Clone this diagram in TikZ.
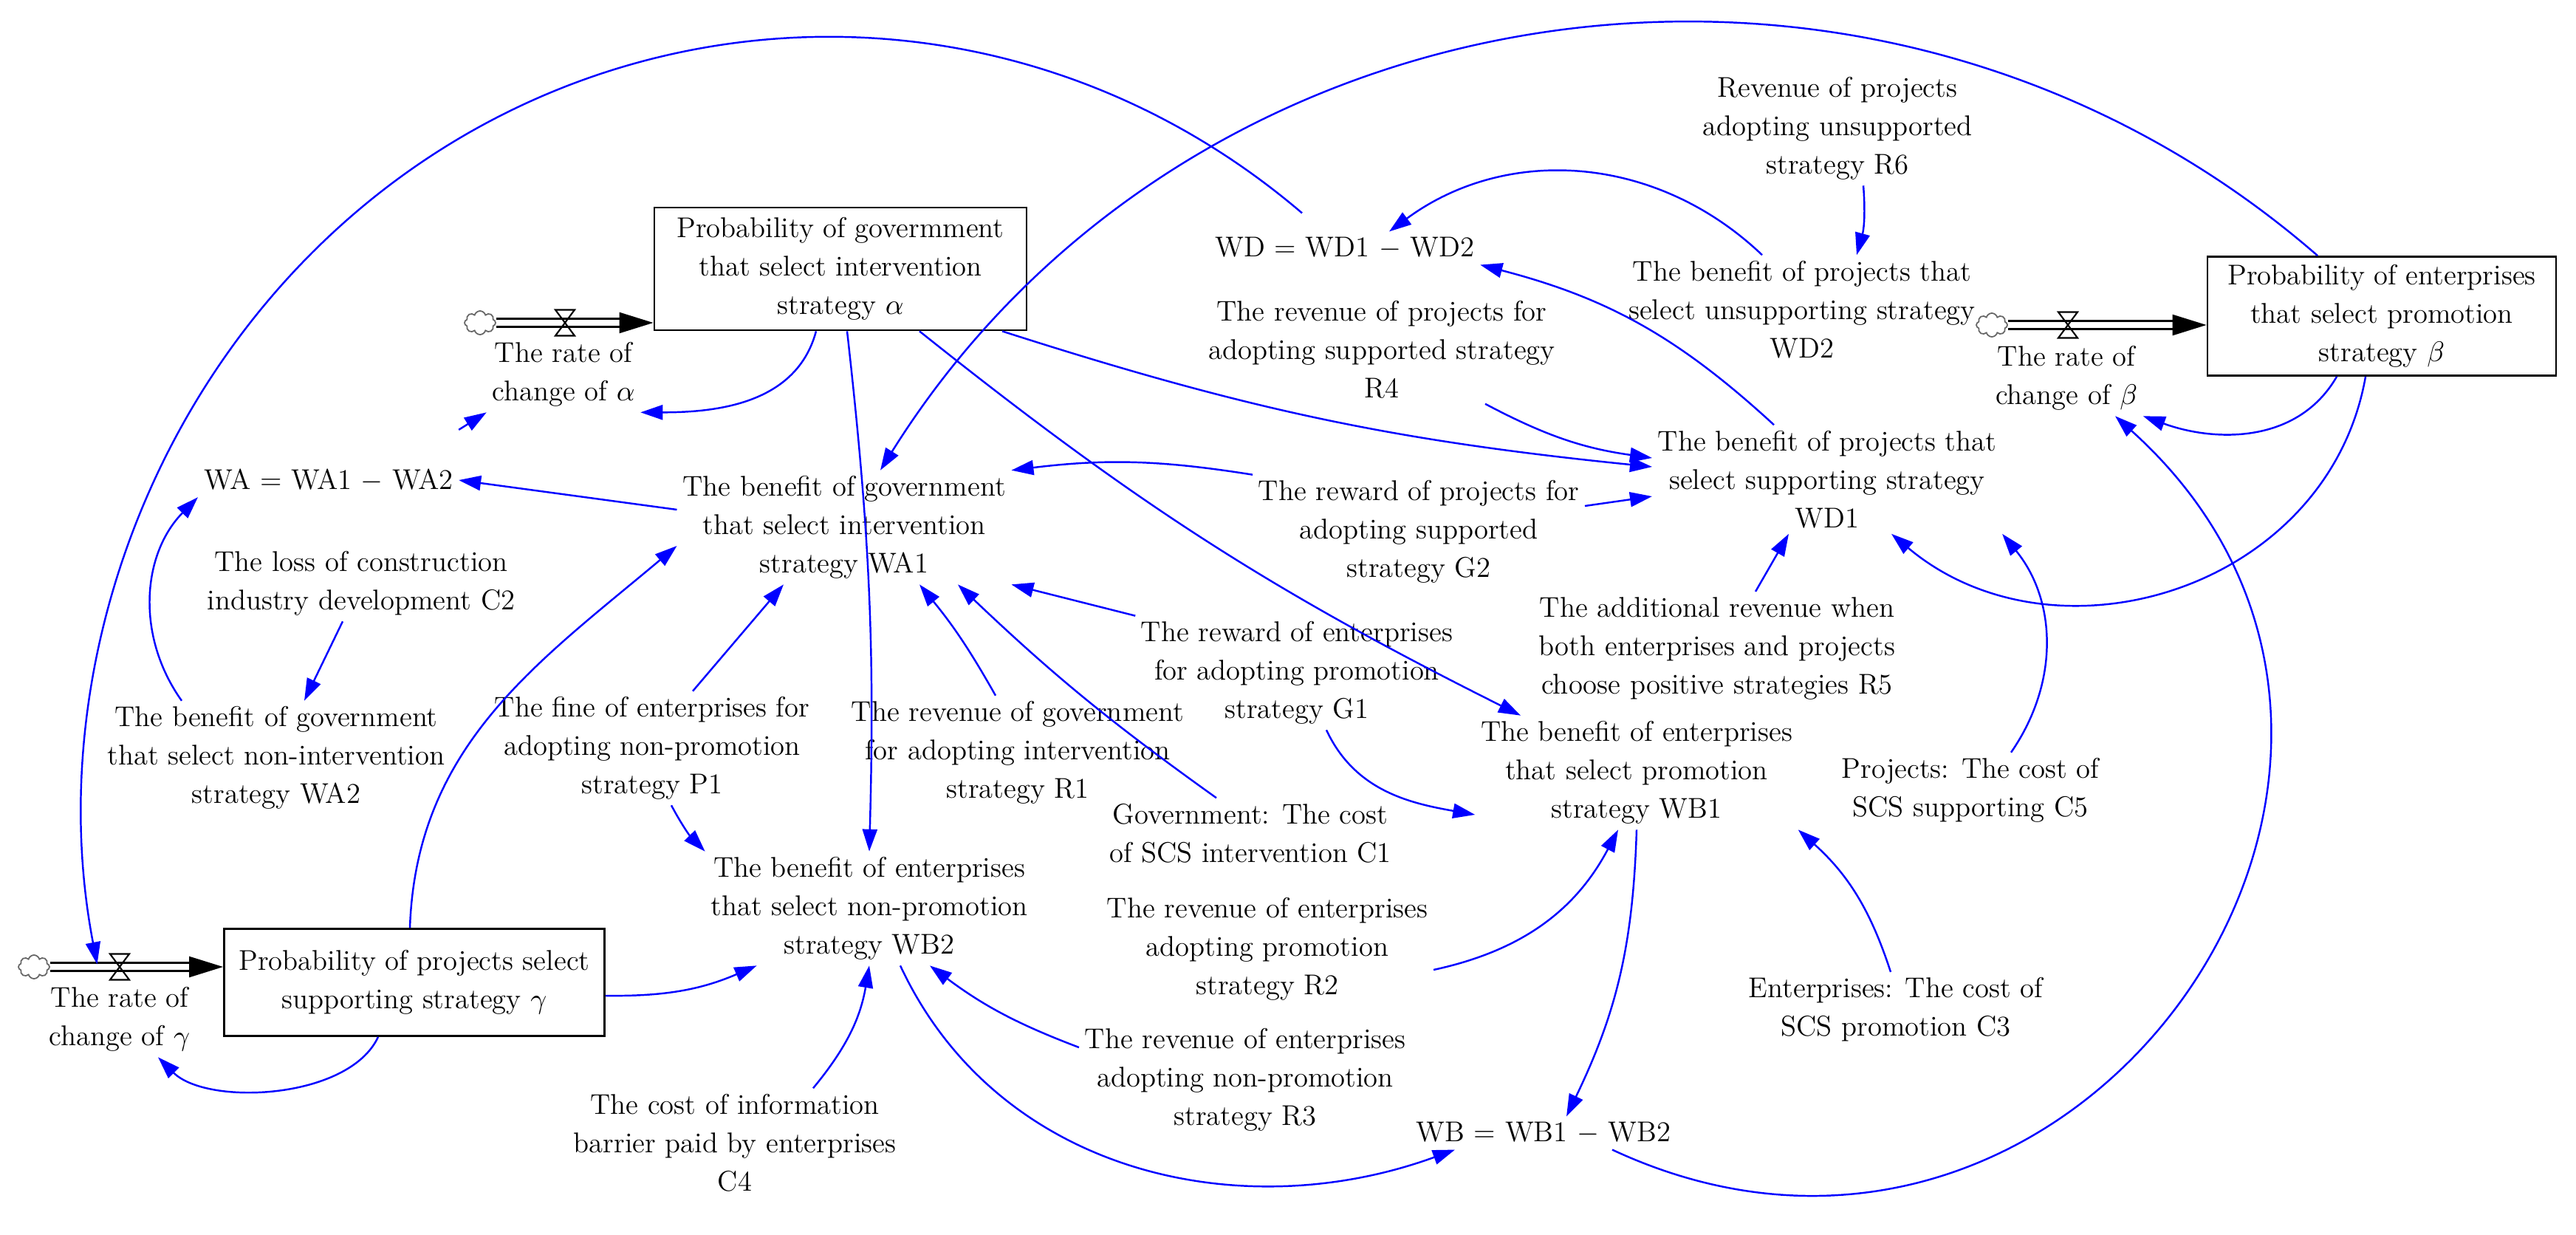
\documentclass[tikz,border=0pt]{standalone}
\usetikzlibrary{arrows.meta,shapes.symbols}
\begin{document}
\begin{tikzpicture}[
	var/.style={font=\fontsize{11}{14.8}\selectfont, align=center, inner sep=2pt},
	stock/.style={var, draw, line width=0.8pt},
	link/.style={blue, line width=0.7pt, -{Triangle[length=3mm,width=2mm]}},
	pipe/.style={draw=black, double=white, line width=0.7pt, double distance=2.4pt, shorten >=4.4mm},
	pipehead/.style={line width=0.7pt, -{Triangle[length=4.6mm,width=2.8mm]}},
	source/.style={cloud, cloud puffs=8, draw=black!60, line width=0.5pt, minimum width=4.2mm, minimum height=3.2mm, inner sep=0pt}
	]
		\newcommand{\flowvalve}[1]{\draw[line width=0.6pt] ([shift={(-0.13,0.175)}]#1) -- ++(0.26,0) -- ++(-0.26,-0.35) -- ++(0.26,0) -- cycle;}
		
		\useasboundingbox (0,0) rectangle (34.88,-16.72);
		
		% stocks
		\node[stock, minimum width=5.04cm, minimum height=1.66cm] (alpha) at (11.38,-3.64) {Probability of govermment\\that select intervention\\strategy $\alpha$};
		\node[stock, minimum width=4.72cm, minimum height=1.61cm] (beta) at (32.25,-4.28) {Probability of enterprises\\that select promotion\\strategy $\beta$};
		\node[stock, minimum width=5.15cm, minimum height=1.45cm] (gamma) at (5.61,-13.30) {Probability of projects select\\supporting strategy $\gamma$};
		
		% flows
		\node[source] (cloudA) at (6.50,-4.37) {};
		\node[source] (cloudB) at (26.97,-4.40) {};
		\node[source] (cloudG) at (0.46,-13.09) {};
		\draw[pipe] (cloudA.east) -- (cloudA -| alpha.west);
		\draw[pipe] (cloudB.east) -- (cloudB -| beta.west);
		\draw[pipe] (cloudG.east) -- (cloudG -| gamma.west);
		\draw[pipehead] ([xshift=-4.6mm]cloudA -| alpha.west) -- (cloudA -| alpha.west);
		\draw[pipehead] ([xshift=-4.6mm]cloudB -| beta.west) -- (cloudB -| beta.west);
		\draw[pipehead] ([xshift=-4.6mm]cloudG -| gamma.west) -- (cloudG -| gamma.west);
		\coordinate (valveA) at (7.65,-4.37);
		\coordinate (valveB) at (28.00,-4.40);
		\coordinate (valveG) at (1.62,-13.09);
		\flowvalve{valveA}
		\flowvalve{valveB}
		\flowvalve{valveG}
		\node[var] (rateA) at (7.63,-5.07) {The rate of\\change of $\alpha$};
		\node[var] (rateB) at (27.98,-5.12) {The rate of\\change of $\beta$};
		\node[var] (rateG) at (1.62,-13.80) {The rate of\\change of $\gamma$};
		
		% government side
		\node[var] (WA) at (4.45,-6.50) {WA = WA1 $-$ WA2};
		\node[var] (WA1) at (11.43,-7.14) {The benefit of government\\that select intervention\\strategy WA1};
		\node[var] (C2) at (4.89,-7.90) {The loss of construction\\industry development C2};
		\node[var] (WA2) at (3.74,-10.26) {The benefit of government\\that select non-intervention\\strategy WA2};
		\node[var] (P1) at (8.83,-10.13) {The fine of enterprises for\\adopting non-promotion\\strategy P1};
		\node[var] (R1) at (13.78,-10.19) {The revenue of government\\for adopting intervention\\strategy R1};
		\node[var] (C1) at (16.93,-11.28) {Government: The cost\\of SCS intervention C1};
		\node[var] (G1) at (17.56,-9.11) {The reward of enterprises\\for adopting promotion\\strategy G1};
		
		% enterprises side
		\node[var] (WB2) at (11.77,-12.30) {The benefit of enterprises\\that select non-promotion\\strategy WB2};
		\node[var] (C4) at (9.95,-15.47) {The cost of information\\barrier paid by enterprises\\C4};
		\node[var] (R3) at (16.86,-14.62) {The revenue of enterprises\\adopting non-promotion\\strategy R3};
		\node[var] (R2) at (17.16,-12.85) {The revenue of enterprises\\adopting promotion\\strategy R2};
		\node[var] (WB1) at (22.16,-10.46) {The benefit of enterprises\\that select promotion\\strategy WB1};
		\node[var] (WB) at (20.90,-15.34) {WB = WB1 $-$ WB2};
		\node[var] (C3) at (25.67,-13.67) {Enterprises: The cost of\\SCS promotion C3};
		
		% projects side
		\node[var] (C5) at (26.68,-10.70) {Projects: The cost of\\SCS supporting C5};
		\node[var] (R5) at (23.25,-8.78) {The additional revenue when\\both enterprises and projects\\choose positive strategies R5};
		\node[var] (WD1) at (24.74,-6.49) {The benefit of projects that\\select supporting strategy\\WD1};
		\node[var] (G2) at (19.21,-7.20) {The reward of projects for\\adopting supported\\strategy G2};
		\node[var] (R4) at (18.71,-4.73) {The revenue of projects for\\adopting supported strategy\\R4};
		\node[var] (WD) at (18.21,-3.36) {WD = WD1 $-$ WD2};
		\node[var] (WD2) at (24.40,-4.19) {The benefit of projects that\\select unsupporting strategy\\WD2};
		\node[var] (R6) at (24.88,-1.74) {Revenue of projects\\adopting unsupported\\strategy R6};
		
		% links to the rates
		\draw[link] ([xshift=-0.33cm]alpha.south) to[out=-105,in=0] (rateA.south east);
		\draw[link] ([yshift=0.45cm]WA.north east) -- (rateA.south west);
		\draw[link] ([xshift=-0.49cm]gamma.south) to[out=-115,in=-45,looseness=0.8] ([xshift=0.52cm]rateG.south);
		\draw[link] ([xshift=-0.61cm]beta.south) to[out=-120,in=-20] (rateB.south east);
		\draw[link] ([xshift=-0.58cm,yshift=0.25cm]WD.north) arc[start angle=50.6, end angle=191.3, x radius=10.1cm, y radius=10.5cm];
		\draw[link] ([xshift=0.93cm]WB.south) to[out=-25,in=-42,looseness=1.48] ([xshift=0.66cm]rateB.south);
		
		% links of the government
		\draw[link] ([yshift=0.24cm]WA1.west) -- (WA.east);
		\draw[link] ([xshift=-1.28cm]WA2.north) to[bend left=40] ([xshift=-1.77cm]WA.south);
		\draw[link] ([xshift=-0.25cm]C2.south) -- ([xshift=0.38cm]WA2.north);
		\draw[link] ([xshift=-0.87cm]beta.north) to[out=139,in=58,looseness=1.03] ([xshift=0.49cm]WA1.north);
		\draw[link] ([xshift=-0.06cm]gamma.north) to[out=88,in=-140] ([yshift=-0.25cm]WA1.west);
		\draw[link] (G2.north west) to[bend right=8] (WA1.north east);
		\draw[link] (G1.north west) -- (WA1.south east);
		\draw[link] ([xshift=-0.46cm]C1.north) to[bend left=4] ([xshift=1.54cm]WA1.south);
		\draw[link] ([xshift=-0.3cm]R1.north) to[bend right=5] ([xshift=1.02cm]WA1.south);
		\draw[link] ([xshift=0.55cm]P1.north) -- ([xshift=-0.82cm]WA1.south);
		
		% links of the enterprises
		\draw[link] ([xshift=0.09cm]alpha.south) to[bend left=4] (WB2.north);
		\draw[link] ([xshift=0.26cm]P1.south) to[bend right=8] (WB2.north west);
		\draw[link] ([yshift=-0.18cm]gamma.east) to[bend right=12] ([xshift=0.7cm]WB2.south west);
		\draw[link] ([xshift=1.06cm]C4.north) to[bend right=15] (WB2.south);
		\draw[link] ([yshift=0.44cm]R3.west) to[bend left=8] ([xshift=0.82cm]WB2.south);
		\draw[link] ([xshift=0.42cm]WB2.south) to[out=-65,in=-160] ([xshift=-1.2cm]WB.south);
		\draw[link] ([xshift=1.07cm]alpha.south) to[bend right=6] ([xshift=-1.57cm]WB1.north);
		\draw[link] ([xshift=0.4cm]G1.south) to[out=-65,in=170] ([yshift=-0.57cm]WB1.west);
		\draw[link] ([yshift=-0.28cm]R2.east) to[bend right=25] ([xshift=-0.25cm]WB1.south);
		\draw[link] (WB1.south) to[bend left=12] ([xshift=0.31cm]WB.north);
		\draw[link] ([xshift=-0.07cm]C3.north) to[bend right=15] (WB1.south east);
		
		% links of the projects
		\draw[link] ([xshift=2.19cm]alpha.south) to[bend right=6] ([yshift=0.17cm]WD1.west);
		\draw[link] ([xshift=1.4cm]R4.south) to[bend right=10] ([yshift=0.29cm]WD1.west);
		\draw[link] ([yshift=0.35cm]G2.east) -- ([yshift=-0.23cm]WD1.west);
		\draw[link] ([xshift=0.52cm]R5.north) -- ([xshift=-0.52cm]WD1.south);
		\draw[link] ([xshift=-0.22cm]beta.south) to[out=-100,in=-40,looseness=1.1] ([xshift=0.87cm]WD1.south);
		\draw[link] ([xshift=0.55cm]C5.north) to[bend right=37] (WD1.south east);
		\draw[link] ([xshift=-0.72cm]WD1.north) to[bend right=14] (WD.south east);
		\draw[link] ([xshift=-0.54cm]WD2.north) to[bend right=40] ([xshift=0.6cm]WD.north);
		\draw[link] ([xshift=0.35cm]R6.south) to[bend left=10] ([xshift=0.74cm]WD2.north);
		
\end{tikzpicture}
\end{document}
